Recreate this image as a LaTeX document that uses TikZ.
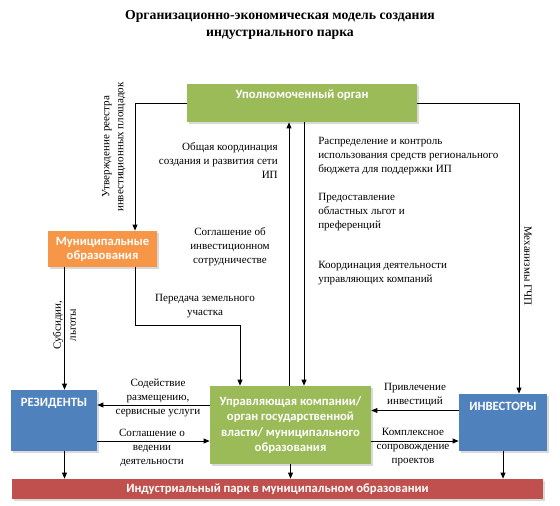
\documentclass[tikz,border=0pt]{standalone}
\usepackage{fontspec}
\setmainfont{Liberation Serif}
\newfontfamily\boxfont{Carlito}
\usepackage{tikz}
\usetikzlibrary{arrows.meta,positioning,calc,shadows}
\definecolor{organcolor}{RGB}{155,187,89}
\definecolor{municcolor}{RGB}{247,150,70}
\definecolor{uchcolor}{RGB}{79,129,189}
\definecolor{parkcolor}{RGB}{192,80,77}

\begin{document}
\begin{tikzpicture}[x=0.75pt,y=-0.75pt,
  >={Triangle[length=4.5pt,width=3.6pt]},
  blok/.style={rectangle,inner sep=2pt,text=white,align=center,
               font=\boxfont\bfseries\fontsize{9.5}{11.6}\selectfont,
               drop shadow={shadow xshift=1.5pt,shadow yshift=-1.5pt,opacity=.3}},
  organ/.style={blok,fill=organcolor},
  munic/.style={blok,fill=municcolor},
  uch/.style={blok,fill=uchcolor},
  park/.style={blok,fill=parkcolor},
  btxt/.style={text=white,align=center,inner sep=1pt,
               font=\boxfont\bfseries\fontsize{9.5}{11.6}\selectfont},
  svyaz/.style={->,line width=0.7pt},
  lbl/.style={font=\fontsize{8.3}{10.5}\selectfont,inner sep=0pt,align=center},
  ttl/.style={font=\bfseries\fontsize{10.3}{12.75}\selectfont,align=center}
]
\useasboundingbox (0,0) rectangle (560,506);
%% Заголовок
\node[ttl] (T) at (280,24.5) {Организационно-экономическая модель создания\\индустриального парка};
%% Блоки
\node[organ,minimum width=172.5pt,minimum height=28.5pt] (U) at (302,103) {};
\node[btxt] (Ut) at ($(U.north)+(0,11)$) {Уполномоченный орган};
\node[munic,minimum width=81.75pt,minimum height=27pt,
      font=\boxfont\bfseries\fontsize{9.5}{10.5}\selectfont] (M) at (102.5,249) {Муниципальные\\образования};
\node[uch,minimum width=64.5pt,minimum height=45.75pt] (R) at (54,420.5) {};
\node[btxt] (Rt) at ($(R.north)+(0,14)$) {РЕЗИДЕНТЫ};
\node[organ,minimum width=120.75pt,minimum height=58.5pt] (K) at (290.5,425)
     {Управляющая компании/\\орган государственной\\власти/ муниципального\\образования};
\node[uch,minimum width=66pt,minimum height=42.75pt] (I) at (503,422.5) {};
\node[btxt] (It) at ($(I.north)+(0,13)$) {ИНВЕСТОРЫ};
\node[park,minimum width=398.25pt,minimum height=15pt] (P) at (277.5,489)
     {Индустриальный парк в муниципальном образовании};
%% Точки
\coordinate (up)   at ($(U.south)+(-13,0)$);
\coordinate (down) at ($(U.south)+(2,0)$);
\coordinate (sub)  at ($(M.south)+(-38,0)$);
\coordinate (land) at ($(M.south)+(32.5,0)$);
%% Связи
\draw[svyaz] (U.west) -| ($(M.north)+(32.5,0)$);
\draw[svyaz] (U.east) -| ($(I.north)+(16,0)$);
\draw[svyaz] (up |- K.north) -- (up);
\draw[svyaz] (down) -- (down |- K.north);
\draw[svyaz] (sub) -- (sub |- R.north);
\draw[svyaz] (land) -- ++(0,58) -| ($(K.north)+(-50.5,0)$);
\draw[svyaz] ($(K.west)+(0,-20)$) coordinate (k1) -- (k1 -| R.east);
\draw[svyaz] ($(R.east)+(0,20.5)$) coordinate (r1) -- (r1 -| K.west);
\draw[svyaz] ($(I.west)+(0,-12)$) coordinate (i1) -- (i1 -| K.east);
\draw[svyaz] ($(K.east)+(0,16)$) coordinate (k2) -- (k2 -| I.west);
\draw[svyaz] (sub |- R.south) -- (sub |- P.north);
\draw[svyaz] (K.south) -- (K.south |- P.north);
\draw[svyaz] (I.south) -- (I.south |- P.north);
%% Подписи
\node[lbl,rotate=90] (l1) at (114,147) {Утверждение реестра\\инвестиционных площадок};
\node[lbl,rotate=-90] (l2) at (528,266) {Механизмы ГЧП};
\node[lbl,rotate=90,font=\fontsize{8.3}{11.25}\selectfont] (l3) at (64.5,325) {Субсидии,\\льготы};
\node[lbl,align=right,anchor=east] (l4) at (278,160.5) {Общая координация\\создания и развития сети\\ИП};
\node[lbl] (l5) at (230,246.5) {Соглашение об\\инвестиционном\\сотрудничестве};
\node[lbl,align=left,anchor=west] (l6) at (318,156.5) {Распределение и контроль\\использования средств регионального\\бюджета для поддержки ИП};
\node[lbl,align=left,anchor=west] (l7) at (318,212) {Предоставление\\областных льгот и\\преференций};
\node[lbl,align=left,anchor=west] (l8) at (318,273) {Координация деятельности\\управляющих компаний};
\node[lbl] (l9) at (205,306) {Передача земельного\\участка};
\node[lbl] (l10) at (158,398) {Содействие\\размещению,\\сервисные услуги};
\node[lbl] (l11) at (152,447.5) {Соглашение о\\ведении\\деятельности};
\node[lbl,font=\fontsize{8.3}{11}\selectfont] (l12) at (415,395) {Привлечение\\инвестиций};
\node[lbl] (l13) at (413,447.5) {Комплексное\\сопровождение\\проектов};
\end{tikzpicture}
\end{document}
